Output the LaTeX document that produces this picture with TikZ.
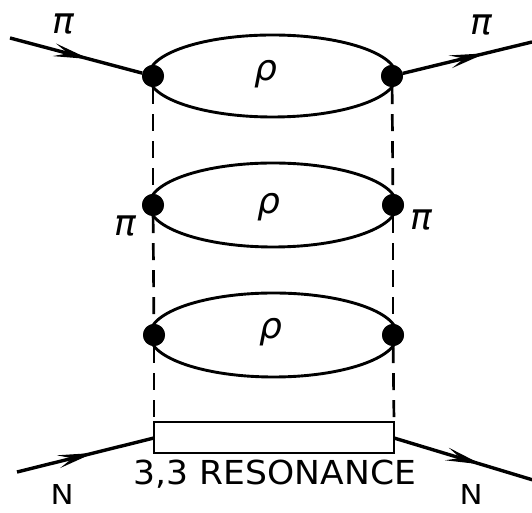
\documentclass[tikz,border=0pt]{standalone}
\usepackage{fontspec}
\usepackage{graphicx}
\setmainfont{DejaVu Sans}
\newfontfamily\letterfont{DejaVu Sans}
\newfontfamily\greekfont{DejaVu Sans Oblique}
\usetikzlibrary{arrows.meta,decorations.markings,calc}
\begin{document}
\begin{tikzpicture}[x=1pt,y=1pt,
  vtx/.style={circle,fill=black,inner sep=0pt,minimum size=22pt},
  prop/.style={line width=3.4pt},
  loopline/.style={line width=2.9pt},
  vline/.style={line width=2.7pt,dash pattern=on 17pt off 10pt},
  boxline/.style={line width=2.8pt},
  arrowat/.style={postaction={decorate},decoration={markings,
      mark=at position #1 with {\arrow{Stealth[length=36pt,width=13pt,inset=14pt]}}}},
  greek/.style={font=\greekfont\fontsize{36}{40}\selectfont,inner sep=0pt},
  lbl/.style={font=\letterfont,inner sep=0pt,anchor=base}
  ]
\useasboundingbox (0,0) rectangle (532,513);

% vertices
\node[vtx] (A1) at (153,437) {};
\node[vtx] (B1) at (392,437) {};
\node[vtx] (A2) at (153,308) {};
\node[vtx] (B2) at (393,308) {};
\node[vtx] (A3) at (154,178) {};
\node[vtx] (B3) at (393,178) {};

% resonance box
\coordinate (R1) at (154,60);
\coordinate (R2) at (394,91);
\draw[boxline] (R1) rectangle (R2);
\coordinate (RL) at (154,75);
\coordinate (RR) at (394,75);
\coordinate (RTL) at (154,91);
\coordinate (RTR) at (394,91);

% rho loops
\draw[loopline] ($(A1)!0.5!(B1)$) ellipse [x radius=124, y radius=41];
\draw[loopline] ($(A2)!0.5!(B2)$) ellipse [x radius=124, y radius=42];
\draw[loopline] ($(A3)!0.5!(B3)$) ellipse [x radius=124, y radius=42];

% dashed pion exchange lines
\draw[vline] (A1) -- (A2);
\draw[vline] (A2) -- (A3);
\draw[vline] (A3) -- (RTL);
\draw[vline] (B1) -- (B2);
\draw[vline] (B2) -- (B3);
\draw[vline] (B3) -- (RTR);

% redraw vertices on top
\foreach \v in {A1,B1,A2,B2,A3,B3} \fill (\v) circle (11pt);

% external lines
\coordinate (PiIn) at (10,475);
\coordinate (PiOut) at (532,471);
\coordinate (NIn) at (17,41);
\coordinate (NOut) at (533,33);
\draw[prop,arrowat=0.6] (PiIn) -- (A1);
\draw[prop,arrowat=0.64] (B1) -- (PiOut);
\draw[prop,arrowat=0.56] (NIn) -- (RL);
\draw[prop,arrowat=0.63] (RR) -- (NOut);

% labels
\node[greek] (p1) at (63,489) {π};
\node[greek] (p2) at (481,488) {π};
\node[greek] (p3) at (125,287) {π};
\node[greek] (p4) at (421,293) {π};
\node[greek] (r1) at (266,439) {ρ};
\node[greek] (r2) at (269,306) {ρ};
\node[greek] (r3) at (271,181) {ρ};
\node[lbl] (n1) at (62,8) {\resizebox{23pt}{20pt}{N}};
\node[lbl] (n2) at (471,8) {\resizebox{23pt}{20pt}{N}};
\node[lbl] (res) at (275,28) {\resizebox{282pt}{24.5pt}{3,3 RESONANCE}};
\end{tikzpicture}
\end{document}
